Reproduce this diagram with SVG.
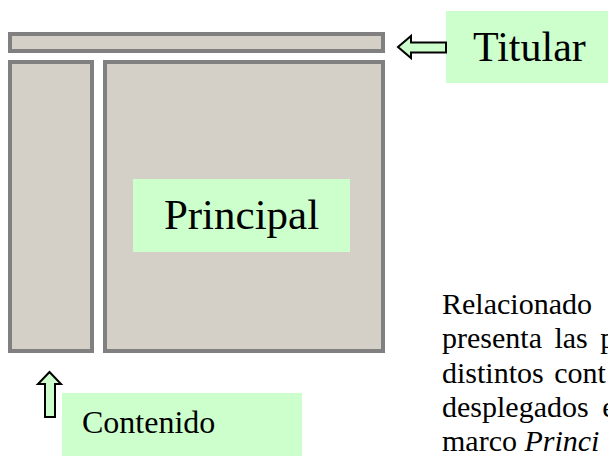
<svg xmlns="http://www.w3.org/2000/svg" width="608" height="456" viewBox="0 0 608 456">
<style>
.frame{fill:#d4d0c8;stroke:#808080;stroke-width:4}
.lbl{fill:#ccffcc}
.arrow{fill:#ccffcc;stroke:#000;stroke-width:2;stroke-linejoin:miter}
.t{font-family:'Liberation Serif','Times New Roman',Times,serif;fill:#000}
.d{font-size:30px}
</style>
<rect width="608" height="456" fill="#fff"/>
<g id="titular-frame"><rect class="frame" x="10" y="34" width="373" height="17"/></g>
<g id="contenido-frame"><rect class="frame" x="10" y="62" width="82" height="289"/></g>
<g id="principal-frame"><rect class="frame" x="105" y="62" width="278" height="289"/></g>
<g id="principal-label"><rect class="lbl" x="133" y="179" width="217" height="73"/><text class="t" x="241.5" y="229" font-size="43" text-anchor="middle">Principal</text></g>
<g id="titular-label"><rect class="lbl" x="446" y="11" width="162" height="72"/><text class="t" x="473" y="61" font-size="42">Titular</text></g>
<g id="contenido-label"><rect class="lbl" x="62" y="393" width="240" height="63"/><text class="t" x="82" y="432.5" font-size="32">Contenido</text></g>
<g id="connectors">
<path class="arrow" d="M398,47 L411,36 L411,42.5 L446,42.5 L446,52.5 L411,52.5 L411,58 Z"/>
<path class="arrow" d="M49.5,372 L61,384 L55,384 L55,417 L45,417 L45,384 L38,384 Z"/>
</g>
<g id="description">
<text class="t d" x="442" y="314">Relacionado</text>
<text class="t d" x="442" y="348.3" word-spacing="5">presenta las p</text>
<text class="t d" x="442" y="382.6" word-spacing="3">distintos cont</text>
<text class="t d" x="442" y="416.9" word-spacing="6">desplegados e</text>
<text class="t d" x="442" y="451.2">marco <tspan font-style="italic">Princi</tspan></text>
</g>
</svg>
